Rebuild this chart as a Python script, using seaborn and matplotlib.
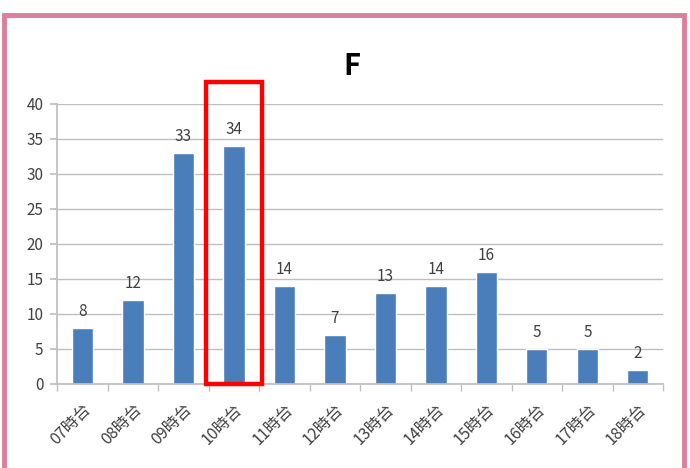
import numpy as np
import pandas as pd
import matplotlib
matplotlib.use("Agg")
import matplotlib.pyplot as plt
import matplotlib.patches as patches
import seaborn as sns

hours = ["07時台", "08時台", "09時台", "10時台", "11時台", "12時台",
         "13時台", "14時台", "15時台", "16時台", "17時台", "18時台"]
counts = [8, 12, 33, 34, 14, 7, 13, 14, 16, 5, 5, 2]
highlight = "10時台"

sns.set_theme(style="white")
plt.rcParams['font.family'] = ['Noto Sans CJK JP', 'DejaVu Sans']

df = pd.DataFrame({"hour": hours, "count": counts})

fig = plt.figure(figsize=(6.9, 4.68), dpi=100)
ax = fig.add_axes([0.083, 0.1795, 0.878, 0.5985])

sns.barplot(data=df, x="hour", y="count", color="#4A7EBB", width=0.42,
            saturation=1, ax=ax)

ax.set_ylim(0, 40)
ax.set_yticks(range(0, 41, 5))
ax.set_xlim(-0.5, len(hours) - 0.5)
ax.yaxis.grid(True, color="#BFBFBF", linewidth=1)
ax.set_axisbelow(True)
for side in ["top", "right"]:
    ax.spines[side].set_visible(False)
ax.spines["left"].set_color("#BFBFBF")
ax.spines["bottom"].set_color("#BFBFBF")
ax.set_xlabel("")
ax.set_ylabel("")

# category boundary ticks on x, small ticks on y
ax.set_xticks(np.arange(len(hours)))
ax.set_xticklabels(hours, rotation=45, ha="right", rotation_mode="anchor",
                   fontsize=11.5, color="#404040")
ax.set_xticks(np.arange(-0.5, len(hours), 1), minor=True)
ax.tick_params(axis="x", which="major", length=0, pad=12)
ax.tick_params(axis="x", which="minor", length=5, color="#BFBFBF", bottom=True)
ax.tick_params(axis="y", length=5, color="#BFBFBF", left=True,
               labelsize=11, labelcolor="#404040", pad=5)

for i, v in enumerate(counts):
    ax.text(i, v + 1.1, str(v), ha="center", va="bottom",
            fontsize=11, color="#404040")

fig.text(0.51, 0.86, "F", ha="center", va="center", fontsize=21,
         fontweight="bold", color="black")

# red box around the highlighted hour
hi = hours.index(highlight)
ax.add_patch(patches.Rectangle((hi - 0.55, 0), 1.1, 43.1, fill=False,
                               edgecolor="#FF0000", linewidth=3.2,
                               clip_on=False, zorder=5))

# pink frame around the chart
fig.add_artist(patches.Rectangle((4 / 690, -0.05), 680 / 690, 1.05 - 15 / 468,
                                 transform=fig.transFigure, fill=False,
                                 edgecolor="#DE7D9C", linewidth=3.5,
                                 clip_on=False))

fig.savefig("out.png", dpi=100)
